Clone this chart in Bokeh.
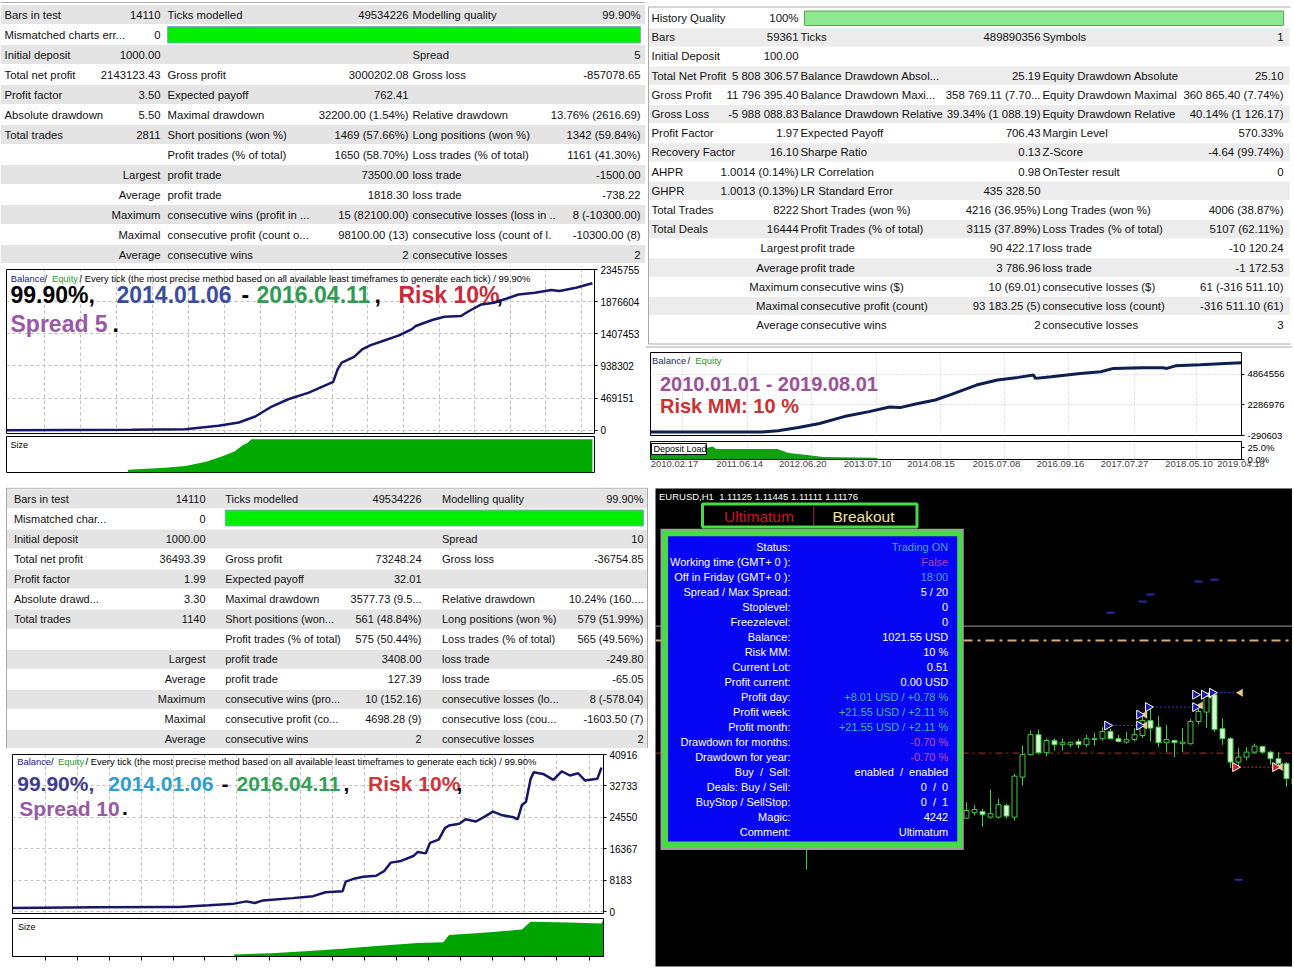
import math
from bokeh.plotting import figure
from bokeh.layouts import row, column
from bokeh.models import Range1d, FixedTicker, Span, Grid, LinearAxis, PrintfTickFormatter
from bokeh.core.properties import value
from bokeh.embed import file_html
from bokeh.resources import INLINE

# ======================= DATA =======================
# ---- top-left MT4 report ----
tl_c1 = ["Bars in test", "Mismatched charts err...", "Initial deposit", "Total net profit", "Profit factor",
         "Absolute drawdown", "Total trades", "", "", "", "", "", ""]
tl_c2 = ["14110", "0", "1000.00", "2143123.43", "3.50", "5.50", "2811", "", "Largest", "Average",
         "Maximum", "Maximal", "Average"]
tl_c3 = ["Ticks modelled", "", "", "Gross profit", "Expected payoff", "Maximal drawdown",
         "Short positions (won %)", "Profit trades (% of total)", "profit trade", "profit trade",
         "consecutive wins (profit in ...", "consecutive profit (count o...", "consecutive wins"]
tl_c4 = ["49534226", "", "", "3000202.08", "762.41", "32200.00 (1.54%)", "1469 (57.66%)", "1650 (58.70%)",
         "73500.00", "1818.30", "15 (82100.00)", "98100.00 (13)", "2"]
tl_c5 = ["Modelling quality", "", "Spread", "Gross loss", "", "Relative drawdown", "Long positions (won %)",
         "Loss trades (% of total)", "loss trade", "loss trade", "consecutive losses (loss in ..",
         "consecutive loss (count of l.", "consecutive losses"]
tl_c6 = ["99.90%", "", "5", "-857078.65", "", "13.76% (2616.69)", "1342 (59.84%)", "1161 (41.30%)",
         "-1500.00", "-738.22", "8 (-10300.00)", "-10300.00 (8)", "2"]

tl_trade = [0, 601, 857, 1016, 1114, 1193, 1272, 1351, 1450, 1529, 1567, 1588, 1608, 1667, 1706, 1744,
            1805, 1883, 1943, 1963, 2042, 2101, 2180, 2219, 2278, 2338, 2397, 2456, 2535, 2614, 2653,
            2732, 2811]
tl_balance = [1000, 6000, 14570, 64100, 112200, 199600, 345300, 451700, 549300, 655700, 705200, 888800,
              986400, 1069400, 1180200, 1238500, 1302600, 1384200, 1471600, 1521100, 1608500, 1656600,
              1666800, 1739700, 1835800, 1860600, 1918900, 1981500, 2006300, 2045600, 2031100, 2079100,
              2144123]
tl_yticks = [0, 469151, 938302, 1407453, 1876604, 2345755]
tl_grid = [183, 355, 527, 700, 874, 1045, 1217, 1387, 1562, 1732, 1904, 2075, 2245, 2416, 2588, 2758]
tl_size_trade = [582, 760, 857, 957, 1035, 1095, 1134, 1154, 1174, 2811]
tl_size_lots = [4, 7.3, 9.8, 16, 24.4, 31.7, 41.4, 43.9, 50, 50]

# ---- top-right MT5 report ----
tr_c1 = ["History Quality", "Bars", "Initial Deposit", "Total Net Profit", "Gross Profit", "Gross Loss",
         "Profit Factor", "Recovery Factor", "AHPR", "GHPR", "Total Trades", "Total Deals", "", "", "", "", ""]
tr_c2 = ["100%", "59361", "100.00", "5 808 306.57", "11 796 395.40", "-5 988 088.83", "1.97", "16.10",
         "1.0014 (0.14%)", "1.0013 (0.13%)", "8222", "16444", "Largest", "Average", "Maximum", "Maximal",
         "Average"]
tr_c3 = ["", "Ticks", "", "Balance Drawdown Absol...", "Balance Drawdown Maxi...", "Balance Drawdown Relative",
         "Expected Payoff", "Sharpe Ratio", "LR Correlation", "LR Standard Error", "Short Trades (won %)",
         "Profit Trades (% of total)", "profit trade", "profit trade", "consecutive wins ($)",
         "consecutive profit (count)", "consecutive wins"]
tr_c4 = ["", "489890356", "", "25.19", "358 769.11 (7.70...", "39.34% (1 088.19)", "706.43", "0.13", "0.98",
         "435 328.50", "4216 (36.95%)", "3115 (37.89%)", "90 422.17", "3 786.96", "10 (69.01)",
         "93 183.25 (5)", "2"]
tr_c5 = ["", "Symbols", "", "Equity Drawdown Absolute", "Equity Drawdown Maximal", "Equity Drawdown Relative",
         "Margin Level", "Z-Score", "OnTester result", "", "Long Trades (won %)", "Loss Trades (% of total)",
         "loss trade", "loss trade", "consecutive losses ($)", "consecutive loss (count)", "consecutive losses"]
tr_c6 = ["", "1", "", "25.10", "360 865.40 (7.74%)", "40.14% (1 126.17)", "570.33%", "-4.64 (99.74%)", "0", "",
         "4006 (38.87%)", "5107 (62.11%)", "-10 120.24", "-1 172.53", "61 (-316 511.10)", "-316 511.10 (61)", "3"]

tr_deal = [0, 3088, 3547, 4117, 4702, 5389, 6081, 6649, 6944, 7344, 7923, 8374, 9069, 9654, 10227, 10655,
           10711, 11147, 11954, 12530, 12881, 13687, 14258, 14372, 14606, 15296, 15986, 16444]
tr_balance = [100, 100, 102100, 377800, 712000, 1296900, 1714600, 2107300, 2050000, 2332900, 2692200,
              3168500, 3945500, 4363200, 4588800, 4781000, 4505300, 4639000, 4923000, 5056700, 5340800,
              5391000, 5391000, 5340800, 5558000, 5650000, 5760000, 5808407]
tr_yticks = [-290603, 2286976, 4864556]
tr_dep_deal = [0, 1558, 1725, 1836, 3533, 3839, 4229, 4813, 6260, 6398]
tr_dep_pct = [23.6, 23.6, 26.6, 21.6, 21.6, 13.5, 10.1, 5.4, 3.4, 0]
tr_dep_ticks = [0, 25]
tr_date_pos = [668, 2482, 4237, 6036, 7806, 9626, 11406, 13187, 14983, 16430]
tr_date_lab = ["2010.02.17", "2011.06.14", "2012.06.20", "2013.07.10", "2014.08.15", "2015.07.08",
               "2016.09.16", "2017.07.27", "2018.05.10", "2019.04.18"]
tr_grid = [890, 2709, 4468, 6277, 8074, 9860, 11633, 13453, 15181]

# ---- bottom-left MT4 report ----
bl_c1 = ["Bars in test", "Mismatched char...", "Initial deposit", "Total net profit", "Profit factor",
         "Absolute drawd...", "Total trades", "", "", "", "", "", ""]
bl_c2 = ["14110", "0", "1000.00", "36493.39", "1.99", "3.30", "1140", "", "Largest", "Average", "Maximum",
         "Maximal", "Average"]
bl_c3 = ["Ticks modelled", "", "", "Gross profit", "Expected payoff", "Maximal drawdown",
         "Short positions (won...", "Profit trades (% of total)", "profit trade", "profit trade",
         "consecutive wins (pro...", "consecutive profit (co...", "consecutive wins"]
bl_c4 = ["49534226", "", "", "73248.24", "32.01", "3577.73 (9.5...", "561 (48.84%)", "575 (50.44%)",
         "3408.00", "127.39", "10 (152.16)", "4698.28 (9)", "2"]
bl_c5 = ["Modelling quality", "", "Spread", "Gross loss", "", "Relative drawdown", "Long positions (won %)",
         "Loss trades (% of total)", "loss trade", "loss trade", "consecutive losses (lo...",
         "consecutive loss (cou...", "consecutive losses"]
bl_c6 = ["99.90%", "", "10", "-36754.85", "", "10.24% (160....", "579 (51.99%)", "565 (49.56%)", "-249.80",
         "-65.05", "8 (-578.04)", "-1603.50 (7)", "2"]

bl_trade = [0, 57, 162, 299, 323, 380, 429, 453, 469, 485, 542, 582, 606, 639, 645, 663, 679, 704, 720,
            732, 752, 776, 784, 800, 808, 825, 837, 845, 865, 877, 897, 914, 930, 946, 970, 978, 986, 994,
            1003, 1009, 1027, 1047, 1063, 1079, 1095, 1108, 1132, 1140]
bl_balance = [1000, 1100, 1200, 1300, 1250, 1717, 2152, 2741, 2306, 2998, 3587, 4099, 5124, 5380, 7865,
              8711, 9146, 9403, 10684, 12810, 13245, 14527, 15551, 15218, 17934, 18805, 21777, 22469, 22904,
              24083, 23494, 24775, 26056, 25210, 24595, 24083, 27772, 28617, 34587, 36304, 35868, 34331,
              36560, 35458, 36048, 34177, 34587, 37493]
bl_yticks = [0, 8183, 16367, 24550, 32733, 40916]
bl_grid = [63, 125, 188, 249, 311, 372, 434, 497, 558, 620, 682, 744, 806, 867, 930, 991, 1053, 1116]
bl_size_trade = [429, 501, 566, 639, 704, 784, 834, 845, 930, 986, 1003, 1075, 1140, 1143]
bl_size_lots = [0.21, 0.35, 0.56, 0.81, 1.10, 1.42, 1.50, 2.27, 2.59, 2.83, 3.65, 3.57, 3.47, 3.83]

# ---- bottom-right EURUSD H1 chart ----
br_bar = [-20] + list(range(0, 42))
br_open = [1.11000, 1.10747, 1.10774, 1.10780, 1.10752, 1.10752, 1.10810, 1.10752, 1.10952, 1.11064, 1.11164,
           1.11074, 1.11134, 1.11114, 1.11114, 1.11130, 1.11114, 1.11140, 1.11144, 1.11180, 1.11144,
           1.11127, 1.11140, 1.11160, 1.11235, 1.11202, 1.11124, 1.11135, 1.11119, 1.11119, 1.11230,
           1.11277, 1.11364, 1.11194, 1.11144, 1.11027, 1.11052, 1.11077, 1.11105, 1.11077, 1.11044,
           1.11019, 1.10947]
br_high = [1.11100, 1.10827, 1.10814, 1.10794, 1.10890, 1.10844, 1.10819, 1.10969, 1.11110, 1.11185, 1.11190,
           1.11144, 1.11144, 1.11144, 1.11130, 1.11144, 1.11164, 1.11174, 1.11202, 1.11194, 1.11164,
           1.11177, 1.11197, 1.11260, 1.11302, 1.11257, 1.11214, 1.11140, 1.11197, 1.11244, 1.11319,
           1.11374, 1.11377, 1.11244, 1.11152, 1.11097, 1.11102, 1.11119, 1.11110, 1.11085, 1.11077,
           1.11027, 1.10960]
br_low = [1.10490, 1.10743, 1.10760, 1.10702, 1.10744, 1.10744, 1.10744, 1.10735, 1.10910, 1.11060, 1.11064,
          1.11057, 1.11085, 1.11085, 1.11102, 1.11097, 1.11102, 1.11110, 1.11135, 1.11139, 1.11124,
          1.11119, 1.11130, 1.11147, 1.11130, 1.11102, 1.11077, 1.11052, 1.11077, 1.11114, 1.11214,
          1.11197, 1.11177, 1.11114, 1.10997, 1.10997, 1.11035, 1.11069, 1.11069, 1.11014, 1.11002,
          1.10902, 1.10890]
br_close = [1.10900, 1.10785, 1.10790, 1.10764, 1.10769, 1.10814, 1.10757, 1.10957, 1.11064, 1.11164, 1.11074,
            1.11135, 1.11114, 1.11124, 1.11124, 1.11114, 1.11144, 1.11144, 1.11180, 1.11144, 1.11130,
            1.11139, 1.11164, 1.11235, 1.11197, 1.11124, 1.11140, 1.11124, 1.11127, 1.11230, 1.11280,
            1.11357, 1.11190, 1.11144, 1.11027, 1.11052, 1.11077, 1.11107, 1.11077, 1.11044, 1.11019,
            1.10944, 1.10914]
level_gray = 1.11707
level_orange = 1.11635
level_red = 1.11072
pend_bar = [18, 22, 23, 29, 31, 34]
pend_price = [1.11774, 1.11830, 1.11865, 1.11930, 1.11939, 1.10439]
buy_bar = [17.6, 21.6, 21.6, 22.7, 28.6, 28.6, 29.7, 30.7]
buy_price = [1.11210, 1.11210, 1.11264, 1.11302, 1.11302, 1.11364, 1.11364, 1.11374]
close_bar = [22.3, 22.3, 29.25, 30.3, 34.25, 39.25]
close_price = [1.11210, 1.11264, 1.11310, 1.11364, 1.11374, 1.11002]
sell_bar = [33.6, 38.6]
sell_price = [1.11002, 1.11002]
buy_line_from = [17.6, 22.7, 30.7]
buy_line_to = [21.6, 28.6, 34.25]
buy_line_price = [1.11210, 1.11302, 1.11374]

quote_text = "EURUSD,H1  1.11125 1.11445 1.11111 1.11176"
panel_labels = ["Status:", "Working time (GMT+ 0 ):", "Off in Friday (GMT+ 0 ):", "Spread / Max Spread:",
                "Stoplevel:", "Freezelevel:", "Balance:", "Risk MM:", "Current Lot:", "Profit current:",
                "Profit day:", "Profit week:", "Profit month:", "Drawdown for months:", "Drawdown for year:",
                "Buy  /  Sell:", "Deals: Buy / Sell:", "BuyStop / SellStop:", "Magic:", "Comment:"]
panel_values = ["Trading ON", "False", "18:00", "5 / 20", "0", "0", "1021.55 USD", "10 %", "0.51",
                "0.00 USD", "+8.01 USD / +0.78 %", "+21.55 USD / +2.11 %", "+21.55 USD / +2.11 %",
                "-0.70 %", "-0.70 %", "enabled  /  enabled", "0  /  0", "0  /  1", "4242", "Ultimatum"]
panel_colors = ["#4a9fdc", "#a844b0", "#4a9fdc", "white", "white", "white", "white", "white", "white",
                "white", "#3cb4a0", "#3cb4a0", "#3cb4a0", "#c44ac4", "#c44ac4", "white", "white", "white",
                "white", "white"]

# ======================= HELPERS =======================
FONT = value("Liberation Sans")


def fsz(px):
    return value("%.2fpx" % px)


def nb(s):
    return s.replace("  ", "\u00a0 ")


def fig(w, h, xr, yr, ml=0, mr=0, mt=0, mb=0, yaxis=False):
    p = figure(width=w, height=h, x_range=xr, y_range=yr, x_axis_location=None,
               y_axis_location=("right" if yaxis else None), toolbar_location=None,
               output_backend="svg", min_border_left=ml, min_border_right=mr,
               min_border_top=mt, min_border_bottom=mb, frame_align=False)
    p.background_fill_color = "white"
    p.border_fill_color = "white"
    p.outline_line_color = None
    for g in p.xgrid + p.ygrid:
        g.visible = False
    return p


def txt(p, xs, ys, texts, size, color="black", align="left", bold=False, rng=True):
    kw = dict(x_range_name="px", y_range_name="px") if rng else {}
    p.text(x=xs, y=ys, text=[nb(t) for t in texts], text_align=align, text_baseline="middle",
           text_font=FONT, text_font_size=fsz(size), text_color=color,
           text_font_style=("bold" if bold else "normal"), **kw)


def table(p, cols, xs, y0, pitch, size):
    n = len(cols[0])
    ys = [y0 + pitch * (i + 0.5) for i in range(n)]
    for k, (col, x) in enumerate(zip(cols, xs)):
        sx, sy, st = [], [], []
        for s, y in zip(col, ys):
            if s:
                sx.append(x); sy.append(y); st.append(s)
        p.text(x=sx, y=sy, text=st, text_align=("left" if k % 2 == 0 else "right"), text_baseline="middle",
               text_font=FONT, text_font_size=fsz(size), text_color="#111111")


def stripes(p, x0, x1, y0, pitch, rows, color):
    p.quad(left=x0, right=x1, top=[y0 + i * pitch + 0.5 for i in rows],
           bottom=[y0 + (i + 1) * pitch - 0.5 for i in rows], fill_color=color, line_color=None)


def style_y(p, ticks, size, fmt="%d", grid=True):
    ax = p.yaxis[0]
    ax.ticker = FixedTicker(ticks=ticks)
    ax.formatter = PrintfTickFormatter(format=fmt)
    ax.major_label_text_font = "Liberation Sans"
    ax.major_label_text_font_size = "%.2fpx" % size
    ax.major_label_text_color = "black"
    ax.major_tick_out = 3
    ax.major_tick_in = 0
    ax.minor_tick_out = 0
    ax.minor_tick_in = 0
    ax.axis_line_color = None
    ax.major_label_standoff = 3
    if grid:
        for g in p.ygrid:
            g.visible = True
            g.grid_line_color = "#bdbdbd"
            g.grid_line_dash = "3 3"


def vgrid(p, ticks, color="#bdbdbd", dash="3 3"):
    p.add_layout(Grid(dimension=0, ticker=FixedTicker(ticks=ticks), grid_line_color=color,
                      grid_line_dash=dash))


def px_ranges(p, x0, x1, ybot, ytop):
    p.extra_x_ranges = {"px": Range1d(x0, x1)}
    p.extra_y_ranges = {"px": Range1d(ybot, ytop)}


HEADER = "/ Every tick (the most precise method based on all available least timeframes to generate each tick) / 99.90%"

# ======================= TOP-LEFT =======================
tl_table = fig(645, 263, Range1d(0, 645), Range1d(263, 0))
tl_table.segment(x0=[0], y0=[2], x1=[645], y1=[2], line_color="#b0b0b0")
stripes(tl_table, 0, 645, 4, 20, [0, 2, 4, 6, 8, 10, 12], "#e4e4e4")
tl_table.quad(left=[167], right=[640], top=[26], bottom=[42.5], fill_color="#00ee00", line_color="#88aacc")
table(tl_table, [tl_c1, tl_c2, tl_c3, tl_c4, tl_c5, tl_c6], [4, 160, 167, 408, 412, 640], 4, 20, 11.3)

tl_bal = fig(645, 173, Range1d(-1, 2821), Range1d(-48000, 2345755), ml=6, mr=51, mt=6, mb=3, yaxis=True)
tl_bal.outline_line_color = "black"
style_y(tl_bal, tl_yticks, 10)
vgrid(tl_bal, tl_grid)
px_ranges(tl_bal, 6, 594, 433, 269)
txt(tl_bal, [10.3], [277.5], ["Balance"], 9.4, "#20208a")
txt(tl_bal, [44], [277.5], ["/"], 9.4, "black")
txt(tl_bal, [51.4], [277.5], ["Equity"], 9.4, "#1f9a1f")
txt(tl_bal, [79], [277.5], [HEADER], 9.4, "black")
txt(tl_bal, [10, 116, 241, 256, 374, 398, 496], [294] * 7,
    ["99.90%,", "2014.01.06", "-", "2016.04.11", ",", "Risk 10%", ","], 23,
    ["black", "#3b4ca3", "black", "#2f9b50", "black", "#cc2a38", "black"], bold=True)
txt(tl_bal, [10, 112], [323, 323], ["Spread 5", "."], 23, ["#9a58a6", "black"], bold=True)
tl_bal.line(tl_trade, tl_balance, line_color="#17176a", line_width=2.5)

tl_size = fig(645, 51, tl_bal.x_range, Range1d(0, 54), ml=6, mr=51, mt=0, mb=15)
tl_size.outline_line_color = "black"
px_ranges(tl_size, 6, 594, 472, 436)
tl_size.varea(x=tl_size_trade, y1=0, y2=tl_size_lots, fill_color="#00aa00")
txt(tl_size, [10], [444], ["Size"], 9, "black")

# ======================= TOP-RIGHT =======================
tr_table = fig(647, 348, Range1d(645, 1292), Range1d(348, 0))
stripes(tr_table, 648.5, 1289, 8, 19.19, [1, 3, 5, 7, 9, 11, 13, 15], "#ececec")
tr_table.segment(x0=[648, 648, 648, 645], y0=[6.5, 6.5, 343.5, 346.5], x1=[1290, 648, 1290, 1292],
                 y1=[6.5, 343.5, 343.5, 346.5], line_color="#a8a8a8")
tr_table.quad(left=[804], right=[1283], top=[10.5], bottom=[25], fill_color="#8fe88f", line_color="#5aa85a")
table(tr_table, [tr_c1, tr_c2, tr_c3, tr_c4, tr_c5, tr_c6], [651, 798, 800, 1040, 1042, 1283], 8, 19.19, 11.4)

tr_bal = fig(647, 93, Range1d(0, 16444), Range1d(-290603, 6677600), ml=5, mr=51, mt=4, mb=6, yaxis=True)
tr_bal.outline_line_color = "black"
style_y(tr_bal, tr_yticks, 9.5)
for g in tr_bal.ygrid:
    g.grid_line_dash = "1 2"
    g.grid_line_color = "#c8c8c8"
vgrid(tr_bal, tr_grid, "#c8c8c8", "1 2")
px_ranges(tr_bal, 650, 1241, 435, 352)
txt(tr_bal, [651.5], [360], ["Balance"], 9.5, "#1a2a80")
txt(tr_bal, [687], [360], ["/"], 9.5, "black")
txt(tr_bal, [694.7], [360], ["Equity"], 9.5, "#1f9a1f")
txt(tr_bal, [659.5], [383], ["2010.01.01 - 2019.08.01"], 20, "#9e4f98", bold=True)
txt(tr_bal, [659.5], [405.5], ["Risk MM: 10 %"], 20, "#c93232", bold=True)
tr_bal.line(tr_deal, tr_balance, line_color="#0c1f50", line_width=3)

tr_dep = fig(647, 46, tr_bal.x_range, Range1d(0, 37.1), ml=5, mr=51, mt=0, mb=28, yaxis=True)
tr_dep.outline_line_color = "black"
style_y(tr_dep, tr_dep_ticks, 9.5, "%.1f%%", grid=False)
tr_dep.yaxis[0].major_label_text_baseline = "bottom"
vgrid(tr_dep, tr_grid, "#c8c8c8", "1 2")
tr_dep.varea(x=tr_dep_deal, y1=0, y2=tr_dep_pct, fill_color="#10a010")
px_ranges(tr_dep, 650, 1241, 459, 441)
tr_dep.quad(left=[651], right=[706], top=[443], bottom=[454], fill_color="white", line_color="black",
            x_range_name="px", y_range_name="px")
txt(tr_dep, [653], [448.5], ["Deposit Load"], 9, "black")
xa = LinearAxis(ticker=FixedTicker(ticks=tr_date_pos),
                major_label_overrides={k: v for k, v in zip(tr_date_pos, tr_date_lab)},
                major_label_text_font="Liberation Sans", major_label_text_font_size="9.5px",
                major_tick_out=0, major_tick_in=0, minor_tick_out=0, minor_tick_in=0,
                axis_line_color=None, major_label_standoff=1)
tr_dep.add_layout(xa, "below")

# ======================= BOTTOM-LEFT =======================
bl_table = fig(655, 261, Range1d(0, 655), Range1d(749, 488))
stripes(bl_table, 6, 647, 489.3, 20.05, [0, 2, 4, 6, 8, 10, 12], "#e4e4e4")
bl_table.segment(x0=[6, 6, 647], y0=[488.7, 488.7, 488.7], x1=[647, 6, 647], y1=[488.7, 749, 749],
                 line_color="#a8a8a8")
bl_table.quad(left=[224.7], right=[643], top=[510.5], bottom=[526.5], fill_color="#00ee00", line_color="#88aacc")
table(bl_table, [bl_c1, bl_c2, bl_c3, bl_c4, bl_c5, bl_c6], [13.4, 205, 224.7, 421, 441.5, 643], 489.3, 20.05, 11)

bl_bal = fig(655, 169, Range1d(0, 1144), Range1d(-410, 40916), ml=12, mr=52, mt=6, mb=4, yaxis=True)
bl_bal.outline_line_color = "black"
style_y(bl_bal, bl_yticks, 10)
vgrid(bl_bal, bl_grid)
px_ranges(bl_bal, 12, 603, 914, 755)
txt(bl_bal, [16.7], [762], ["Balance"], 9.4, "#20208a")
txt(bl_bal, [50.5], [762], ["/"], 9.4, "black")
txt(bl_bal, [57.6], [762], ["Equity"], 9.4, "#1f9a1f")
txt(bl_bal, [85], [762], [HEADER], 9.4, "black")
txt(bl_bal, [16.7, 107.8, 221, 236, 343, 367.6, 456], [784] * 7,
    ["99.90%,", "2014.01.06", "-", "2016.04.11", ",", "Risk 10%", ","], 21,
    ["#3e3e8e", "#2e9fd0", "black", "#33a055", "black", "#d0353a", "black"], bold=True)
txt(bl_bal, [18.8, 121.5], [808.5, 808.5], ["Spread 10", "."], 21, ["#9a58a6", "black"], bold=True)
bl_bal.line(bl_trade, bl_balance, line_color="#17176a", line_width=2.5)

bl_size = fig(655, 54, bl_bal.x_range, Range1d(0, 4), ml=12, mr=52, mt=1, mb=15)
bl_size.outline_line_color = "black"
px_ranges(bl_size, 12, 603, 957, 919)
bl_size.varea(x=bl_size_trade, y1=0, y2=bl_size_lots, fill_color="#00a400")
txt(bl_size, [17.5], [927], ["Size"], 9, "black")
bax = LinearAxis(ticker=FixedTicker(ticks=bl_grid), major_label_overrides={k: "" for k in bl_grid},
                 major_label_text_font_size="1px", major_tick_out=4, major_tick_in=0, minor_tick_out=0,
                 minor_tick_in=0, axis_line_color="black", major_label_standoff=0)
bl_size.add_layout(bax, "below")

# ======================= BOTTOM-RIGHT =======================
br = fig(637, 484, Range1d(-38.875, 40.75), Range1d(1.10005, 1.12395), mt=1, mb=5)
br.background_fill_color = "black"
px_ranges(br, 655, 1292, 967, 489)
br.add_layout(Span(location=level_gray, dimension="width", line_color="#9a9a9a", line_width=1, level="underlay"))
br.add_layout(Span(location=level_orange, dimension="width", line_color="#d9a96a", line_width=2,
                   line_dash="9 5 3 5", level="underlay"))
br.add_layout(Span(location=level_red, dimension="width", line_color="#b83030", line_width=1,
                   line_dash="7 4 2 4", level="underlay"))
bull = [c >= o for o, c in zip(br_open, br_close)]
body_top = [max(o, c) for o, c in zip(br_open, br_close)]
body_bot = [min(o, c) for o, c in zip(br_open, br_close)]
br.segment(x0=br_bar, y0=br_low, x1=br_bar, y1=br_high, line_color="#3dcc3d", line_width=1)
br.vbar(x=br_bar, width=0.62, top=body_top, bottom=body_bot,
        fill_color=["black" if b else "#d6f7d6" for b in bull], line_color="#3dcc3d", line_width=1)
br.scatter(pend_bar, pend_price, marker="dash", size=8, line_color="#2a2aa8", line_width=2)
br.segment(x0=buy_line_from, y0=buy_line_price, x1=buy_line_to, y1=buy_line_price, line_color="#3a3ad0",
           line_dash="2 2", line_width=1)
br.segment(x0=[sell_bar[0]], y0=[sell_price[0]], x1=[sell_bar[1]], y1=[sell_price[1]], line_color="#d03030",
           line_dash="2 2", line_width=1)
br.scatter(close_bar, close_price, marker="triangle", angle=math.pi / 2, size=8, fill_color="#e6c48c",
           line_color=None)
br.scatter(buy_bar, buy_price, marker="triangle", angle=-math.pi / 2, size=9, fill_color="#1a1ab0",
           line_color="white", line_width=1)
br.scatter(sell_bar, sell_price, marker="triangle", angle=-math.pi / 2, size=9, fill_color="#d42020",
           line_color="white", line_width=1)

# info panel
br.quad(left=[660], right=[963.3], top=[529.3], bottom=[850.5], fill_color="#9c9c9c", line_color=None,
        x_range_name="px", y_range_name="px")
br.quad(left=[661.7], right=[961.7], top=[531], bottom=[848.5], fill_color="#45dc45", line_color=None,
        x_range_name="px", y_range_name="px")
br.quad(left=[667.5], right=[956.7], top=[536.7], bottom=[842], fill_color="#0606f4", line_color=None,
        x_range_name="px", y_range_name="px")
ys = [547 + 15 * i for i in range(len(panel_labels))]
txt(br, [790] * len(ys), ys, panel_labels, 11, "white", align="right")
txt(br, [947.7] * len(ys), ys, panel_values, 11, panel_colors, align="right")
# title box
br.quad(left=[702], right=[916.5], top=[504.5], bottom=[527.5], fill_color="black", line_color="#45dc45",
        line_width=3, x_range_name="px", y_range_name="px")
br.segment(x0=[813.3], y0=[506.5], x1=[813.3], y1=[525.5], line_color="#a83030", x_range_name="px",
           y_range_name="px")
txt(br, [758.5], [516.5], ["Ultimatum"], 15.5, "#cc1820", align="center")
txt(br, [863], [516.5], ["Breakout"], 15.5, "#efe39a", align="center")
txt(br, [658.5], [497], [quote_text], 9.5, "white")

# ======================= LAYOUT =======================
layout = column(
    row(column(tl_table, tl_bal, tl_size), column(tr_table, tr_bal, tr_dep)),
    row(column(bl_table, bl_bal, bl_size), br),
)
open("out.html", "w").write(file_html(layout, INLINE))
